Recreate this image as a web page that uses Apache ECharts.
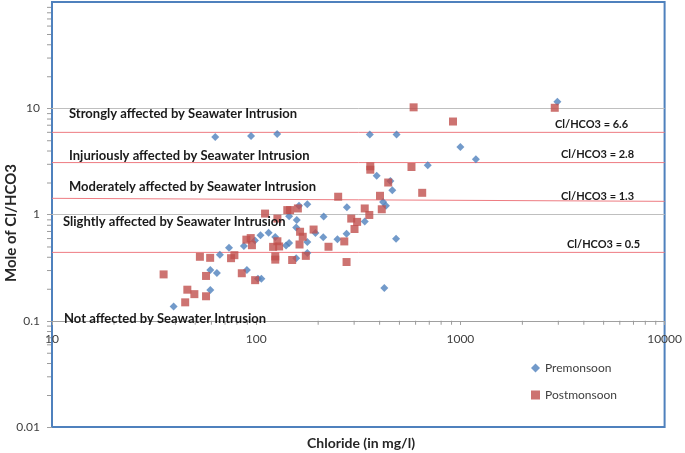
<!DOCTYPE html>
<html><head><meta charset="utf-8">
<script src="https://cdn.jsdelivr.net/npm/echarts@6/dist/echarts.min.js"></script>
<style>html,body{margin:0;padding:0;background:#fff}#c{width:685px;height:453px}</style>
</head><body><div id="c"></div>
<script>
// Premonsoon (blue diamonds)
const preX = [63,94.4,126.7,360,487,2985,1000,1191,692,389,454,464,418,432,484,424,278,340,277,250,214,213,178,162,158,157,145,195,178,178,157,145,140,124,115,105,98.6,87,73.6,66.4,64.2,59.6,90,106,102,59.6,39.4];
const preY = [5.37,5.48,5.73,5.65,5.65,11.5,4.32,3.31,2.91,2.32,2.07,1.69,1.31,1.21,0.59,0.203,1.17,0.86,0.66,0.586,0.96,0.61,1.25,1.21,0.89,0.755,0.965,0.668,0.552,0.435,0.387,0.54,0.512,0.613,0.675,0.638,0.57,0.505,0.486,0.418,0.281,0.3,0.3,0.249,0.249,0.195,0.136];
// Postmonsoon (red squares)
const postX = [590,2898,920,362,362,576,443,650,252,404,340,358,412,292,312,303,191,226,270,277,110.5,127,142,146.5,160,164,169,163,175,150,127,129.5,121,124,124,89.5,94,95.3,98.8,85,75.3,78.2,53,59.5,56.8,56.8,49.8,46,44.9,35.2];
const postY = [10.2,10.1,7.5,2.84,2.64,2.8,2.0,1.6,1.47,1.5,1.14,0.99,1.12,0.915,0.852,0.73,0.722,0.497,0.558,0.357,1.02,0.915,1.1,1.1,1.14,0.688,0.617,0.522,0.408,0.373,0.56,0.5,0.496,0.403,0.376,0.58,0.6,0.514,0.241,0.28,0.388,0.414,0.4,0.391,0.264,0.17,0.178,0.196,0.149,0.273];

const seriesNames = ['Premonsoon','Postmonsoon'];
const xMinorTicks = [20,30,40,50,60,70,80,90,200,300,400,500,600,700,800,900,2000,3000,4000,5000,6000,7000,8000,9000];
const yMinorTicks = [0.02,0.03,0.04,0.05,0.06,0.07,0.08,0.09,0.2,0.3,0.4,0.5,0.6,0.7,0.8,0.9,2,3,4,5,6,7,8,9,20,30,40,50,60,70,80,90];
const zoneNames = ['Strongly affected by Seawater Intrusion','Injuriously affected by Seawater Intrusion','Moderately affected by Seawater Intrusion','Slightly affected by Seawater Intrusion','Not affected by Seawater Intrusion'];
const ratioLabels = ['Cl/HCO3 = 6.6','Cl/HCO3 = 2.8','Cl/HCO3 = 1.3','Cl/HCO3 = 0.5'];
const ratioLineStart = [5.93,3.08,1.42,0.44];
const ratioLineEnd = [5.93,3.08,1.33,0.44];
const xRange = [10,10000];
const yRange = [0.01,100];
const xCross = 0.1;

const FONT = 'Lato';
const zonePos = [[69,114],[69,156],[69,187],[63,222],[64,319]];
const ratioPos = [[555,124.5],[561,154.5],[561,196.5],[567,244.5]];

const chart = echarts.init(document.getElementById('c'));
const tickSeries = (data, horiz) => ({
  type:'custom', silent:true, clip:false, z:5,
  data: data,
  renderItem: (params, api) => {
    const p = api.coord([api.value(0), api.value(1)]);
    return horiz
      ? {type:'line', shape:{x1:p[0]+0.5, y1:p[1], x2:p[0]+0.5, y2:p[1]+4}, style:{stroke:'#9A9A9A', lineWidth:1}}
      : {type:'line', shape:{x1:p[0]-5, y1:p[1]+0.5, x2:p[0]-1, y2:p[1]+0.5}, style:{stroke:'#9A9A9A', lineWidth:1}};
  }
});

const refSeries = ratioLabels.map((n,i) => ({
  type:'line', name:n, silent:true, symbol:'none', z:2,
  lineStyle:{color:'#EE7C82', width:1},
  data:[[xRange[0], ratioLineStart[i]],[xRange[1], ratioLineEnd[i]]]
}));

const graphics = [];
zoneNames.forEach((t,i) => graphics.push({type:'text', x:zonePos[i][0], y:zonePos[i][1], z:100,
  style:{text:t, font:'bold 13px '+FONT, fill:'#1a1a1a', align:'left', verticalAlign:'middle'}}));
ratioLabels.forEach((t,i) => graphics.push({type:'text', x:ratioPos[i][0], y:ratioPos[i][1], z:100,
  style:{text:t, font:'bold 11px '+FONT, fill:'#1a1a1a', align:'left', verticalAlign:'middle'}}));
graphics.push({type:'text', x:11, y:223, rotation:Math.PI/2, z:100,
  style:{text:'Mole of Cl/HCO3', font:'bold 15px '+FONT, fill:'#262626', align:'center', verticalAlign:'middle'}});
graphics.push({type:'text', x:361, y:443, z:100,
  style:{text:'Chloride (in mg/l)', font:'bold 14px '+FONT, fill:'#262626', align:'center', verticalAlign:'middle'}});

chart.setOption({
  animation:false,
  backgroundColor:'#fff',
  grid:{left:52, right:16, top:2, bottom:26, show:true, borderColor:'#4F81BD', borderWidth:2, backgroundColor:'transparent'},
  legend:{orient:'vertical', left:526, top:357, itemWidth:9, itemHeight:9, itemGap:15,
    textStyle:{fontFamily:FONT, fontSize:12, color:'#404040', lineHeight:12},
    data:[{name:seriesNames[0], icon:'diamond'},{name:seriesNames[1], icon:'rect'}]},
  xAxis:{type:'log', logBase:10, min:xRange[0], max:xRange[1], offset:-106,
    axisLine:{show:true, lineStyle:{color:'#A0A0A0', width:1}},
    axisTick:{show:true, length:4, lineStyle:{color:'#A0A0A0'}},
    axisLabel:{fontFamily:FONT, fontSize:12, color:'#404040', margin:12,
      formatter:v => String(Math.round(v))},
    splitLine:{show:false}},
  yAxis:{type:'log', logBase:10, min:yRange[0], max:yRange[1],
    axisLine:{show:false},
    axisTick:{show:true, length:5, lineStyle:{color:'#A0A0A0'}},
    axisLabel:{fontFamily:FONT, fontSize:12, color:'#404040', margin:12, showMaxLabel:false,
      formatter:v => String(+v.toPrecision(3))},
    splitLine:{show:true, showMinLine:false, showMaxLine:false, lineStyle:{color:'#BFBFBF', width:1}}},
  graphic:graphics,
  series:[
    tickSeries(xMinorTicks.map(v => [v, xCross]), true),
    tickSeries(yMinorTicks.map(v => [xRange[0], v]), false),
    ...refSeries,
    {type:'scatter', name:seriesNames[0], symbol:'diamond', symbolSize:8, z:3,
      itemStyle:{color:'#4F81BD'}, data:preX.map((x,i) => [x, preY[i]])},
    {type:'scatter', name:seriesNames[1], symbol:'rect', symbolSize:8, z:4,
      itemStyle:{color:'#C0504D'}, data:postX.map((x,i) => [x, postY[i]])}
  ]
});
</script></body></html>
